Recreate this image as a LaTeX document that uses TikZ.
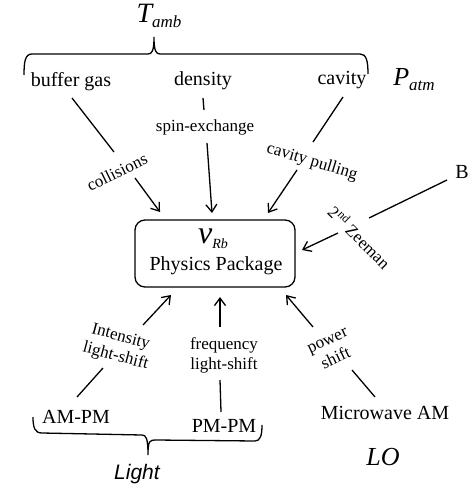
\documentclass[tikz,border=0pt]{standalone}
\usepackage{fontspec}
\setmainfont{Liberation Serif}
\newfontfamily\lsans{Liberation Sans}
\usetikzlibrary{arrows.meta}
\begin{document}
\begin{tikzpicture}[x=1pt,y=-1pt,
  lbl/.style={inner sep=0pt, font=\fontsize{20}{22}\selectfont},
  elbl/.style={inner sep=0pt, align=center, font=\fontsize{17}{20}\selectfont},
  big/.style={inner sep=0pt, font=\fontsize{26}{26}\selectfont\itshape},
  ln/.style={line width=1.3pt},
  arr/.style={line width=1.3pt,-{Straight Barb[length=7.5pt,width=11pt,line width=1.3pt]}},
  ppbox/.style={draw, line width=1.3pt, rounded corners=10pt, minimum width=160pt, minimum height=67pt, inner sep=0pt}
]
\useasboundingbox (0,0) rectangle (474,492);

% nodes
\node[inner sep=0pt] (tamb) at (159,16) {\fontsize{28}{28}\selectfont\itshape T\raisebox{-5pt}{\fontsize{17}{17}\selectfont amb}};
\node[lbl] (buf) at (71,82) {buffer gas};
\node[lbl] (dens) at (203,81) {density};
\node[lbl] (cav) at (342,80) {cavity};
\node[big] (patm) at (414,80) {P\raisebox{-5pt}{\fontsize{17}{17}\selectfont atm}};
\node[elbl] (spin) at (205,127) {spin-exchange};
\node[elbl, rotate=26] (coll) at (117,172) {collisions};
\node[elbl, rotate=-17] (cpull) at (312,162) {cavity pulling};
\node[lbl] (B) at (462,172) {B};
\node[elbl, rotate=-45] (zee) at (360,237) {2\textsuperscript{nd} Zeeman};
\node[ppbox] (pp) at (215,253.5) {};
\node[inner sep=0pt] (nu) at (213,239) {{\fontsize{32}{32}\selectfont\itshape ν}\raisebox{-5pt}{\fontsize{14}{14}\selectfont\itshape Rb}};
\node[lbl] (phys) at (216,266) {Physics Package};
\node[elbl, rotate=-15] (ils) at (118,347) {Intensity\\light-shift};
\node[elbl] (fls) at (224,355) {frequency\\light-shift};
\node[elbl, rotate=25] (pws) at (332,350) {power\\shift};
\node[lbl] (ampm) at (76,417) {AM-PM};
\node[lbl] (pmpm) at (224,426) {PM-PM};
\node[lbl] (mwam) at (385,413) {Microwave AM};
\node[big] (lo) at (383,457) {LO};
\node[inner sep=0pt, font=\lsans\fontsize{21}{21}\selectfont\itshape] (light) at (137,474) {Light};

% connector end points
\coordinate (b1) at (72,98);   \coordinate (b2) at (114,152);
\coordinate (c1) at (135,178); \coordinate (c2) at (160,212);
\coordinate (d1) at (203,98);  \coordinate (d2) at (204,110);
\coordinate (s1) at (207,143); \coordinate (s2) at (212,213);
\coordinate (v1) at (343,97);  \coordinate (v2) at (313,142);
\coordinate (p1) at (297,170); \coordinate (p2) at (268,213);
\coordinate (z1) at (447,180); \coordinate (z2) at (369,218);
\coordinate (z3) at (338,233); \coordinate (z4) at (302,250);
\coordinate (i1) at (143,325); \coordinate (i2) at (171,295);
\coordinate (a1) at (103,368); \coordinate (a2) at (77,397);
\coordinate (f1) at (220,327); \coordinate (f2) at (220,297);
\coordinate (m1) at (220,380); \coordinate (m2) at (221,412);
\coordinate (w1) at (313,327); \coordinate (w2) at (286,295);
\coordinate (w3) at (352,370); \coordinate (w4) at (375,397);

\draw[ln] (b1) -- (b2);
\draw[arr] (c1) -- (c2);
\draw[ln] (d1) -- (d2);
\draw[arr] (s1) -- (s2);
\draw[ln] (v1) -- (v2);
\draw[arr] (p1) -- (p2);
\draw[ln] (z1) -- (z2);
\draw[arr] (z3) -- (z4);
\draw[arr] (i1) -- (i2);
\draw[ln] (a1) -- (a2);
\draw[arr] (f1) -- (f2);
\draw[ln] (m1) -- (m2);
\draw[arr] (w1) -- (w2);
\draw[ln] (w3) -- (w4);

% braces
\draw[ln] (24,75) .. controls (24,62) and (25,54) .. (32,54) -- (148,54)
  .. controls (152,54) and (154,51) .. (154,37)
  .. controls (154,51) and (156,54) .. (160,54) -- (360,54)
  .. controls (366,54) and (368,60) .. (368,74);
\draw[ln] (33,417) .. controls (33,428) and (35,433) .. (42,433) -- (142,435)
  .. controls (146,435) and (148,438) .. (148,455)
  .. controls (148,440) and (150,440) .. (156,440) -- (255,441)
  .. controls (260,441) and (262,436) .. (262,425);
\end{tikzpicture}
\end{document}
